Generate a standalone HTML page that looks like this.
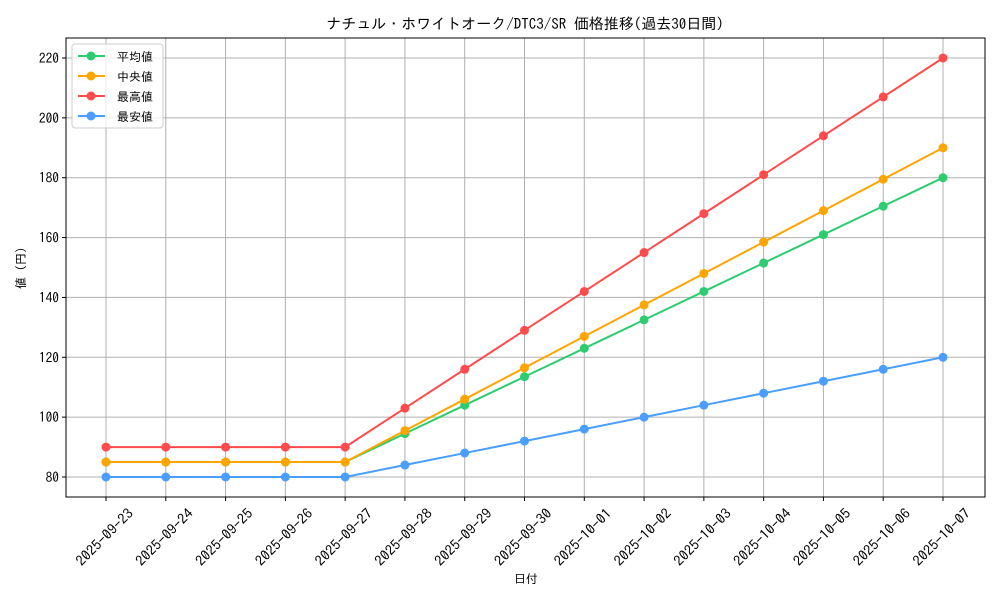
<!DOCTYPE html>
<html><head><meta charset="utf-8"><style>body{margin:0;background:#fff}text{font-family:"IPAGothic","Liberation Sans","Noto Sans CJK JP",sans-serif;fill:#000}</style></head><body>
<svg width="1000" height="600" xmlns="http://www.w3.org/2000/svg">
<rect width="1000" height="600" fill="#fff"/>
<text x="525" y="29" font-size="15" text-anchor="middle">ナチュル・ホワイトオーク/DTC3/SR 価格推移(過去30日間)</text>
<g id="g"></g>
<rect x="66" y="38" width="919" height="459" fill="none" stroke="#000" stroke-width="1"/>
<text x="526" y="583" font-size="12" text-anchor="middle">日付</text>
<text transform="translate(25,268) rotate(-90)" font-size="12" text-anchor="middle">値 (円)</text>
<g>
<rect x="72" y="44" width="91" height="84" rx="3" fill="#fff" fill-opacity="0.8" stroke="#ccc"/>
<line x1="78" y1="56" x2="105" y2="56" stroke="#2ecc71" stroke-width="2"/><circle cx="91" cy="56" r="4.5" fill="#2ecc71"/><text x="117" y="61" font-size="12">平均値</text>
<line x1="78" y1="76" x2="105" y2="76" stroke="#ffa500" stroke-width="2"/><circle cx="91" cy="76" r="4.5" fill="#ffa500"/><text x="117" y="81" font-size="12">中央値</text>
<line x1="78" y1="96" x2="105" y2="96" stroke="#ff4b4b" stroke-width="2"/><circle cx="91" cy="96" r="4.5" fill="#ff4b4b"/><text x="117" y="101" font-size="12">最高値</text>
<line x1="78" y1="116" x2="105" y2="116" stroke="#4a9eff" stroke-width="2"/><circle cx="91" cy="116" r="4.5" fill="#4a9eff"/><text x="117" y="121" font-size="12">最安値</text>
</g>
</svg>
<script>
const ns="http://www.w3.org/2000/svg",g=document.getElementById('g');
function el(t,a,txt){const e=document.createElementNS(ns,t);for(const k in a)e.setAttribute(k,a[k]);if(txt)e.textContent=txt;g.appendChild(e);return e;}
const X=i=>106+i*59.786,Y=v=>477-(v-80)*2.9929;
const dates=["2025-09-23","2025-09-24","2025-09-25","2025-09-26","2025-09-27","2025-09-28","2025-09-29","2025-09-30","2025-10-01","2025-10-02","2025-10-03","2025-10-04","2025-10-05","2025-10-06","2025-10-07"];
for(let v=80;v<=220;v+=20){const y=Y(v);const s=String(v);el('line',{x1:66,x2:985,y1:y,y2:y,stroke:'#b0b0b0','stroke-width':1});el('line',{x1:62,x2:66,y1:y,y2:y,stroke:'#000'});el('text',{x:59,y:y+5,'font-size':14,'text-anchor':'end',textLength:s.length*6.7,lengthAdjust:'spacingAndGlyphs'},s);}
dates.forEach((d,i)=>{const x=X(i);el('line',{x1:x,x2:x,y1:38,y2:497,stroke:'#b0b0b0','stroke-width':1});el('line',{x1:x,x2:x,y1:497,y2:501,stroke:'#000'});el('text',{transform:`translate(${x-1.5},537) rotate(-45)`,x:0,y:5,'font-size':14,'text-anchor':'middle',textLength:74,lengthAdjust:'spacingAndGlyphs'},d);});
function ser(f,c){const v=[];for(let i=0;i<15;i++)v.push(f(i));el('polyline',{points:v.map((a,i)=>X(i)+','+Y(a)).join(' '),fill:'none',stroke:c,'stroke-width':2});v.forEach((a,i)=>el('circle',{cx:X(i),cy:Y(a),r:4.5,fill:c}));}
const r=(b,s)=>i=>i<5?b:85+s*(i-4);
ser(r(85,9.5),'#2ecc71');
ser(r(85,10.5),'#ffa500');
ser(i=>i<5?90:90+13*(i-4),'#ff4b4b');
ser(i=>i<5?80:80+4*(i-4),'#4a9eff');
</script>
</body></html>
